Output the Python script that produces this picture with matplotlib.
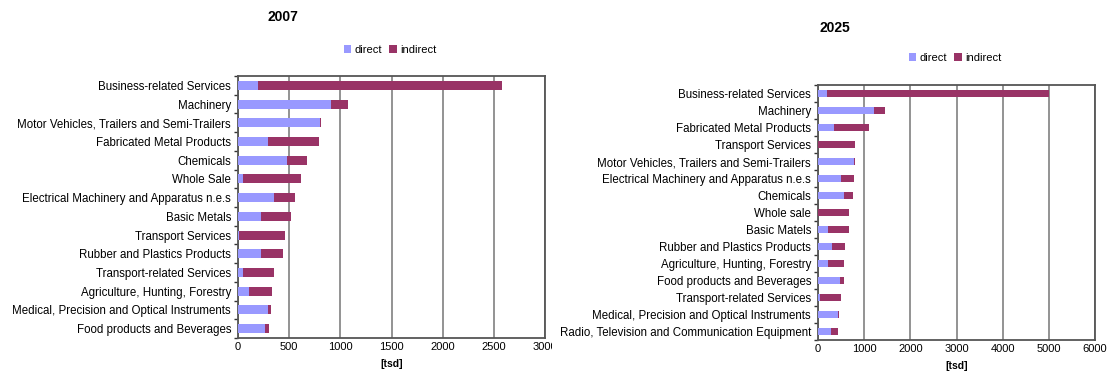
import matplotlib
matplotlib.use("Agg")
import matplotlib.pyplot as plt
import numpy as np
from matplotlib.transforms import Bbox, TransformedBbox

plt.rcParams['font.family'] = ['Liberation Sans', 'DejaVu Sans']

# 2007 (von oben nach unten)
kat_2007 = ["Business-related Services", "Machinery", "Motor Vehicles, Trailers and Semi-Trailers",
            "Fabricated Metal Products", "Chemicals", "Whole Sale",
            "Electrical Machinery and Apparatus n.e.s", "Basic Metals", "Transport Services",
            "Rubber and Plastics Products", "Transport-related Services",
            "Agriculture, Hunting, Forestry", "Medical, Precision and Optical Instruments",
            "Food products and Beverages"]
direct_2007 = [198, 911, 800, 289, 483, 52, 355, 229, 5, 229, 45, 111, 296, 268]
indirect_2007 = [2379, 160, 14, 504, 195, 567, 205, 293, 457, 213, 310, 226, 31, 38]

# 2025
kat_2025 = ["Business-related Services", "Machinery", "Fabricated Metal Products",
            "Transport Services", "Motor Vehicles, Trailers and Semi-Trailers",
            "Electrical Machinery and Apparatus n.e.s", "Chemicals", "Whole sale",
            "Basic Matels", "Rubber and Plastics Products", "Agriculture, Hunting, Forestry",
            "Food products and Beverages", "Transport-related Services",
            "Medical, Precision and Optical Instruments",
            "Radio, Television and Communication Equipment"]
direct_2025 = [203, 1208, 351, 10, 779, 506, 553, 10, 218, 312, 218, 483, 39, 436, 288]
indirect_2025 = [4797, 241, 747, 800, 23, 265, 195, 668, 444, 280, 335, 70, 467, 24, 148]

c_direct = "#9999FF"
c_indirect = "#993366"

fig = plt.figure(figsize=(11.08, 3.72), dpi=100)


def balken(ax, kat, d, ind, xmax, step, hoehe):
    y = np.arange(len(kat))
    ax.barh(y, d, height=hoehe, color=c_direct, label="direct", zorder=3)
    ax.barh(y, ind, left=d, height=hoehe, color=c_indirect, label="indirect", zorder=3)
    ax.set_yticks(y)
    ax.set_yticklabels(kat, fontsize=8.3)
    ax.set_ylim(len(kat) - 0.5, -0.5)
    ax.set_yticks(np.arange(len(kat) + 1) - 0.5, minor=True)
    ax.tick_params(axis='y', which='major', length=0, pad=5)
    ax.tick_params(axis='y', which='minor', length=3, width=1, color="#333333", direction='out')
    ax.set_xlim(0, xmax)
    ax.set_xticks(np.arange(0, xmax + 1, step))
    ax.tick_params(axis='x', length=0, labelsize=8, pad=3)
    ax.grid(axis='x', color="#808080", linewidth=1.2, zorder=0)
    for s in ax.spines.values():
        s.set_color("#555555")
        s.set_linewidth(1.3)
    ax.set_xlabel("[tsd]", fontsize=7.5, fontweight='bold', labelpad=5)


ax1 = fig.add_axes([238 / 1108, 1 - 338 / 372, (545 - 238) / 1108, (338 - 76) / 372])
balken(ax1, kat_2007, direct_2007, indirect_2007, 3000, 500, 0.48)
fig.text(283 / 1108, 1 - 17 / 372, "2007", fontsize=10, fontweight='bold', ha='center', va='center')
ax1.legend(loc='center', bbox_to_anchor=(390 / 1108, 1 - 50 / 372), bbox_transform=fig.transFigure,
           ncol=2, frameon=False, fontsize=8, handlelength=0.7, handleheight=0.7,
           handletextpad=0.3, columnspacing=0.6)
# 3000 wird im Original abgeschnitten
clip = TransformedBbox(Bbox([[0, 0], [552 / 1108, 1]]), fig.transFigure)
for lab in ax1.get_xticklabels():
    lab.set_clip_box(clip)
    lab.set_clip_on(True)

ax2 = fig.add_axes([818 / 1108, 1 - 340 / 372, (1095 - 818) / 1108, (340 - 85) / 372])
balken(ax2, kat_2025, direct_2025, indirect_2025, 6000, 1000, 0.47)
fig.text(835 / 1108, 1 - 28 / 372, "2025", fontsize=10, fontweight='bold', ha='center', va='center')
ax2.legend(loc='center', bbox_to_anchor=(955 / 1108, 1 - 58 / 372), bbox_transform=fig.transFigure,
           ncol=2, frameon=False, fontsize=8, handlelength=0.7, handleheight=0.7,
           handletextpad=0.3, columnspacing=0.6)

fig.savefig("out.png", dpi=100)
